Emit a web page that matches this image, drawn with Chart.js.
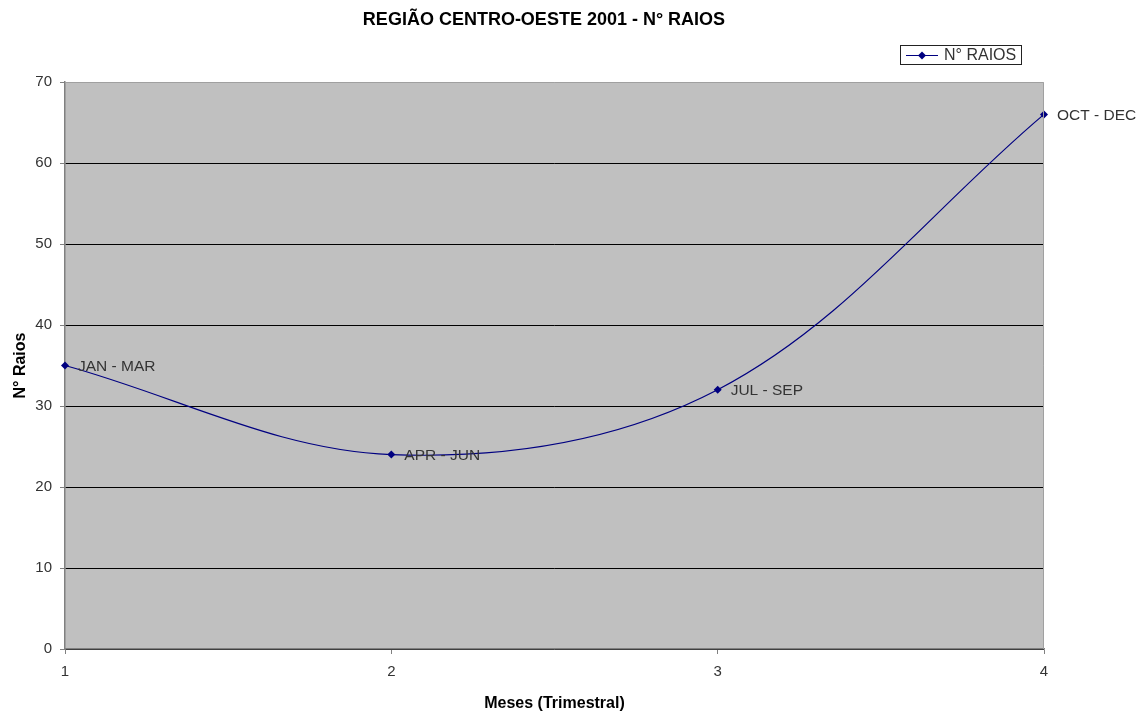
<!DOCTYPE html>
<html>
<head>
<meta charset="utf-8">
<script src="https://cdn.jsdelivr.net/npm/chart.js@4/dist/chart.umd.min.js"></script>
<style>
  html, body { margin: 0; padding: 0; background: #fff; }
  #wrap { width: 1144px; height: 716px; }
</style>
</head>
<body>
<div id="wrap"><canvas id="chart" width="1144" height="716"></canvas></div>
<script>
// === Dados ===
const trimestres = [1, 2, 3, 4];
const rotulos = ['JAN - MAR', 'APR - JUN', 'JUL - SEP', 'OCT - DEC'];
const raios = [35, 24, 32, 66];
const yTicks = [0, 10, 20, 30, 40, 50, 60, 70];

const FONT = "'Liberation Sans', Arial, sans-serif";
const NAVY = '#000080';

// fundo cinza da área do gráfico
const plotBg = {
  id: 'plotBg',
  beforeDraw(chart) {
    const { ctx, chartArea: a } = chart;
    ctx.save();
    ctx.fillStyle = '#c0c0c0';
    ctx.fillRect(a.left, a.top, a.right - a.left, a.bottom - a.top);
    ctx.restore();
  },
  afterDraw(chart) {
    const { ctx, chartArea: a } = chart;
    ctx.save();
    ctx.strokeStyle = '#a0a0a0';
    ctx.lineWidth = 1;
    ctx.beginPath();
    ctx.moveTo(a.left, a.top + 0.5);
    ctx.lineTo(a.right - 0.5, a.top + 0.5);
    ctx.lineTo(a.right - 0.5, a.bottom);
    ctx.stroke();
    ctx.restore();
  }
};

// título + legenda com caixa
const topo = {
  id: 'topo',
  afterDraw(chart) {
    const { ctx } = chart;
    ctx.save();
    ctx.fillStyle = '#000';
    ctx.font = 'bold 18px ' + FONT;
    ctx.textAlign = 'center';
    ctx.textBaseline = 'middle';
    ctx.fillText('REGIÃO CENTRO-OESTE 2001 - N° RAIOS', 544, 20);

    // legenda
    ctx.fillStyle = '#fff';
    ctx.fillRect(900, 45, 121, 19);
    ctx.strokeStyle = '#222';
    ctx.lineWidth = 1;
    ctx.strokeRect(900.5, 45.5, 121, 19);
    ctx.strokeStyle = NAVY;
    ctx.beginPath();
    ctx.moveTo(906, 55.5);
    ctx.lineTo(938, 55.5);
    ctx.stroke();
    ctx.fillStyle = NAVY;
    ctx.beginPath();
    ctx.moveTo(922, 51.5); ctx.lineTo(926, 55.5); ctx.lineTo(922, 59.5); ctx.lineTo(918, 55.5);
    ctx.closePath();
    ctx.fill();
    ctx.fillStyle = '#333';
    ctx.font = '16px ' + FONT;
    ctx.textAlign = 'left';
    ctx.fillText('N° RAIOS', 944, 56);
    ctx.restore();
  }
};

// rótulos dos pontos
const rotulosPontos = {
  id: 'rotulosPontos',
  afterDatasetsDraw(chart) {
    const { ctx } = chart;
    const meta = chart.getDatasetMeta(0);
    ctx.save();
    ctx.fillStyle = '#333';
    ctx.font = '15.5px ' + FONT;
    ctx.textAlign = 'left';
    ctx.textBaseline = 'middle';
    meta.data.forEach((pt, i) => {
      ctx.fillText(rotulos[i], pt.x + 13, pt.y + 1);
    });
    ctx.restore();
  }
};

new Chart(document.getElementById('chart').getContext('2d'), {
  type: 'line',
  data: {
    datasets: [{
      label: 'N° RAIOS',
      data: trimestres.map((x, i) => ({ x, y: raios[i] })),
      borderColor: NAVY,
      backgroundColor: NAVY,
      borderWidth: 1.2,
      tension: 0.35,
      pointStyle: 'rectRot',
      pointRadius: 4,
      pointBackgroundColor: NAVY,
      pointBorderColor: NAVY,
      pointBorderWidth: 0,
      clip: false,
      fill: false
    }]
  },
  options: {
    responsive: false,
    animation: false,
    events: [],
    layout: { padding: { top: 82, right: 100, left: 0, bottom: 0 } },
    plugins: {
      legend: { display: false },
      title: { display: false },
      tooltip: { enabled: false }
    },
    scales: {
      x: {
        type: 'linear',
        min: 1, max: 4,
        afterFit: s => { s.height = 67; },
        afterBuildTicks: s => { s.ticks = trimestres.map(v => ({ value: v })); },
        ticks: { color: '#333', font: { family: FONT, size: 15 }, padding: 9 },
        grid: { color: 'rgba(0,0,0,0)', tickColor: '#808080', tickLength: 5, drawOnChartArea: false },
        border: { color: '#808080', width: 1.5 },
        title: {
          display: true, text: 'Meses (Trimestral)', color: '#000',
          font: { family: FONT, size: 16, weight: 'bold' }, padding: { top: 0, bottom: 3 }
        }
      },
      y: {
        min: 0, max: 70,
        afterFit: s => { s.width = 65; },
        afterBuildTicks: s => { s.ticks = yTicks.map(v => ({ value: v })); },
        ticks: { color: '#333', font: { family: FONT, size: 15 }, padding: 8 },
        grid: {
          color: c => (c.tick && c.tick.value === 70) ? 'rgba(0,0,0,0)' : '#000',
          tickColor: '#808080', tickLength: 5, lineWidth: 1
        },
        border: { color: '#808080', width: 1.5 },
        title: {
          display: true, text: 'N° Raios', color: '#000',
          font: { family: FONT, size: 16, weight: 'bold' }, padding: { top: 11, bottom: 0 }
        }
      }
    }
  },
  plugins: [plotBg, topo, rotulosPontos]
});
</script>
</body>
</html>
